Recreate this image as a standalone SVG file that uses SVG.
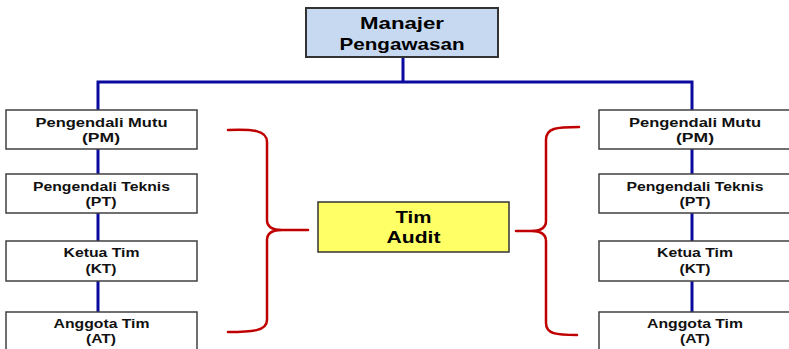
<svg xmlns="http://www.w3.org/2000/svg" width="789" height="349" viewBox="0 0 789 349">
<style>
  .box { fill: #ffffff; stroke: #404040; stroke-width: 1.5; }
  .lbl { font-family: "Liberation Sans", Arial, sans-serif; font-weight: bold; font-size: 12.5px; fill: #111; text-anchor: middle; }
  .big { font-family: "Liberation Sans", Arial, sans-serif; font-weight: bold; font-size: 16.5px; fill: #000; text-anchor: middle; }
  .conn { fill: none; stroke: #0A0A9E; stroke-width: 3; }
  .brace { fill: none; stroke: #C00000; stroke-width: 2.5; stroke-linejoin: round; stroke-linecap: round; }
</style>
<rect width="789" height="349" fill="#ffffff"/>
<g id="connectors">
  <path class="conn" d="M403,57 V82"/>
  <path class="conn" d="M98,110 V82 H692 V110"/>
  <path class="conn" d="M98,149 V174 M98,213 V241 M98,281 V312"/>
  <path class="conn" d="M692,149 V174 M692,213 V241 M692,281 V312"/>
  <path class="brace" d="M228,130 C252,129 267,130 267,142 L267,220 C267,227 272,230 282,230 L308,230 M282,230 C272,230 267,233 267,240 L267,320 C267,331 252,332 228,332"/>
  <path class="brace" d="M579,127 C556,127 546,128 546,140 L546,221 C546,228 541,231 531,231 L516,231 M531,231 C541,231 546,234 546,241 L546,323 C546,334 556,335 577,335"/>
</g>
<g id="manajer">
  <rect x="306" y="8" width="192" height="49" fill="#C6D9F1" stroke="#333333" stroke-width="2"/>
  <text class="big" x="402" y="29" textLength="84" lengthAdjust="spacingAndGlyphs">Manajer</text>
  <text class="big" x="402" y="50" textLength="125" lengthAdjust="spacingAndGlyphs">Pengawasan</text>
</g>
<g id="tim-audit">
  <rect x="318" y="202" width="191" height="50" fill="#FFFF66" stroke="#333333" stroke-width="1.5"/>
  <text class="big" x="413.5" y="223" textLength="36" lengthAdjust="spacingAndGlyphs">Tim</text>
  <text class="big" x="413.5" y="243" textLength="54" lengthAdjust="spacingAndGlyphs">Audit</text>
</g>
<g id="left-pm">
  <rect class="box" x="6" y="110" width="191" height="39"/>
  <text class="lbl" x="101.5" y="127" textLength="132" lengthAdjust="spacingAndGlyphs">Pengendali Mutu</text>
  <text class="lbl" x="101" y="141.5" textLength="38" lengthAdjust="spacingAndGlyphs">(PM)</text>
</g>
<g id="left-pt">
  <rect class="box" x="6" y="174" width="191" height="39"/>
  <text class="lbl" x="101.5" y="191" textLength="137" lengthAdjust="spacingAndGlyphs">Pengendali Teknis</text>
  <text class="lbl" x="101" y="205.5" textLength="31" lengthAdjust="spacingAndGlyphs">(PT)</text>
</g>
<g id="left-kt">
  <rect class="box" x="6" y="241" width="191" height="40"/>
  <text class="lbl" x="101.5" y="257" textLength="76" lengthAdjust="spacingAndGlyphs">Ketua Tim</text>
  <text class="lbl" x="101" y="272.5" textLength="31" lengthAdjust="spacingAndGlyphs">(KT)</text>
</g>
<g id="left-at">
  <rect class="box" x="6" y="312" width="191" height="41"/>
  <text class="lbl" x="101.5" y="327.5" textLength="96" lengthAdjust="spacingAndGlyphs">Anggota Tim</text>
  <text class="lbl" x="101" y="342.5" textLength="30" lengthAdjust="spacingAndGlyphs">(AT)</text>
</g>
<g id="right-pm">
  <rect class="box" x="599" y="110" width="192" height="39"/>
  <text class="lbl" x="695" y="127" textLength="132" lengthAdjust="spacingAndGlyphs">Pengendali Mutu</text>
  <text class="lbl" x="695" y="141.5" textLength="38" lengthAdjust="spacingAndGlyphs">(PM)</text>
</g>
<g id="right-pt">
  <rect class="box" x="599" y="174" width="192" height="39"/>
  <text class="lbl" x="695" y="191" textLength="137" lengthAdjust="spacingAndGlyphs">Pengendali Teknis</text>
  <text class="lbl" x="695" y="205.5" textLength="31" lengthAdjust="spacingAndGlyphs">(PT)</text>
</g>
<g id="right-kt">
  <rect class="box" x="599" y="241" width="192" height="40"/>
  <text class="lbl" x="695" y="257" textLength="76" lengthAdjust="spacingAndGlyphs">Ketua Tim</text>
  <text class="lbl" x="695" y="272.5" textLength="31" lengthAdjust="spacingAndGlyphs">(KT)</text>
</g>
<g id="right-at">
  <rect class="box" x="599" y="312" width="192" height="41"/>
  <text class="lbl" x="695" y="327.5" textLength="96" lengthAdjust="spacingAndGlyphs">Anggota Tim</text>
  <text class="lbl" x="695" y="342.5" textLength="30" lengthAdjust="spacingAndGlyphs">(AT)</text>
</g>
</svg>
